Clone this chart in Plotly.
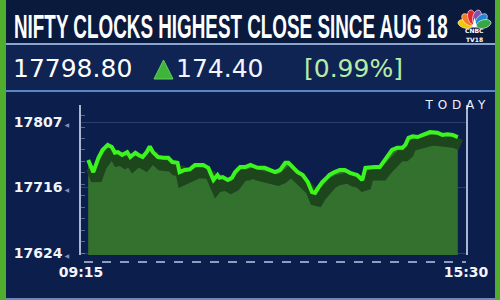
import math
import plotly.graph_objects as go

# ---------------- data ----------------
times = ["09:22", "09:27", "09:32", "09:36", "09:41", "09:45", "09:48", "09:51", "09:55", "10:00",
         "10:03", "10:08", "10:11", "10:15", "10:19", "10:22", "10:25", "10:30", "10:35", "10:40",
         "10:44", "10:49", "10:51", "10:56", "11:01", "11:06", "11:14", "11:19", "11:21", "11:24",
         "11:28", "11:30", "11:33", "11:38", "11:42", "11:45", "11:50", "11:55", "12:00", "12:04",
         "12:07", "12:14", "12:19", "12:24", "12:29", "12:34", "12:37", "12:41", "12:46", "12:51",
         "12:56", "13:00", "13:03", "13:06", "13:10", "13:15", "13:17", "13:22", "13:27", "13:32",
         "13:37", "13:44", "13:49", "13:52", "13:56", "14:01", "14:06", "14:09", "14:13", "14:18",
         "14:23", "14:28", "14:31", "14:34", "14:38", "14:43", "14:48", "14:55", "15:02", "15:07",
         "15:12", "15:17", "15:22"]
nifty = [17754, 17737, 17757, 17768, 17775, 17772, 17764, 17765, 17761, 17765,
         17758, 17764, 17761, 17758, 17765, 17773, 17765, 17758, 17757, 17757,
         17751, 17750, 17737, 17740, 17741, 17747, 17747, 17743, 17736, 17726,
         17733, 17729, 17730, 17726, 17729, 17737, 17744, 17744, 17747, 17744,
         17743, 17743, 17740, 17737, 17740, 17750, 17750, 17744, 17737, 17733,
         17723, 17709, 17708, 17715, 17723, 17730, 17733, 17737, 17740, 17740,
         17736, 17733, 17726, 17743, 17744, 17744, 17744, 17750, 17757, 17768,
         17771, 17771, 17775, 17785, 17787, 17786, 17789, 17793, 17792, 17789,
         17790, 17789, 17786]
y_ticks = [17624, 17716, 17807]
x_tick_labels = ["09:15", "15:30"]
title = "NIFTY CLOCKS HIGHEST CLOSE SINCE AUG 18"
last_value = "17798.80"
change = "174.40"
change_pct = "[0.99%]"

# ---------------- helpers ----------------
W, H = 500, 300
def fx(px):
    return px / W
def fy(py):
    return 1 - py / H
def mins(t):
    h, m = t.split(":")
    return int(h) * 60 + int(m)

x_vals = [mins(t) for t in times]
x_lo, x_hi = mins(x_tick_labels[0]), mins(x_tick_labels[1])

# vertical mapping: 17807 -> 122px, 17624 -> 253px
ppp = (253 - 122) / (y_ticks[2] - y_ticks[0])  # px per point
top_px, bot_px = 105, 255
y_hi = y_ticks[2] + (122 - top_px) / ppp
y_lo = y_ticks[0] - (bot_px - 253) / ppp
ppm = (466 - 81) / (x_hi - x_lo)  # px per minute
sdx, sdy = 3, 8  # shadow offset in px

NAVY = "#0b1e4c"
fig = go.Figure()

fig.add_trace(go.Scatter(
    x=x_vals, y=nifty, xaxis="x", yaxis="y", mode="none", fill="tozeroy",
    fillgradient=dict(type="vertical", colorscale=[[0, "#285a29"], [1, "#33712e"]]),
    hoverinfo="skip", showlegend=False))
fig.add_trace(go.Scatter(
    x=x_vals, y=nifty, xaxis="x2", yaxis="y2", mode="lines",
    line=dict(color="#1d461d", width=11),
    hoverinfo="skip", showlegend=False))
fig.add_trace(go.Scatter(
    x=x_vals, y=nifty, xaxis="x3", yaxis="y3", mode="lines",
    line=dict(color="#3cf51e", width=4),
    hoverinfo="skip", showlegend=False))

tick_font = dict(family="DejaVu Sans", size=14, color="#f2f4fa", weight=700)
xdom = [fx(81), fx(466)]
ydom = [fy(bot_px), fy(top_px)]

fig.update_layout(
    width=W, height=H, autosize=False,
    margin=dict(l=0, r=0, t=0, b=0, autoexpand=False),
    paper_bgcolor=NAVY, plot_bgcolor="rgba(0,0,0,0)",
    showlegend=False,
    xaxis=dict(domain=xdom, range=[x_lo, x_hi], anchor="free", position=fy(262),
               tickvals=[x_lo, x_hi], ticktext=x_tick_labels, tickfont=tick_font,
               showgrid=False, zeroline=False, showline=False, ticks=""),
    yaxis=dict(domain=ydom, range=[y_lo, y_hi], anchor="x",
               tickvals=y_ticks,
               ticktext=[f"{v}<span style='font-size:6px;color:#8090b8'> ◀</span>" for v in y_ticks],
               tickfont=tick_font, ticklabelstandoff=7,
               showgrid=True, gridcolor="rgba(120,150,205,0.28)", gridwidth=1,
               zeroline=False, showline=True, linecolor="#aab6d2", linewidth=2, mirror=True,
               ticks="",
               minor=dict(ticks="inside", ticklen=4, tickcolor="rgba(150,170,210,0.55)",
                          dtick=16, tick0=y_ticks[0], showgrid=False)),
    xaxis2=dict(overlaying="x", range=[x_lo - sdx / ppm, x_hi - sdx / ppm], visible=False),
    yaxis2=dict(overlaying="y", anchor="x2", range=[y_lo + sdy / ppp, y_hi + sdy / ppp], visible=False),
    xaxis3=dict(overlaying="x", range=[x_lo, x_hi], visible=False),
    yaxis3=dict(overlaying="y", anchor="x3", range=[y_lo, y_hi], visible=False),
)

shapes = [
    dict(type="rect", x0=0, x1=1, y0=fy(43), y1=1, fillcolor="#0a1a3d", line_width=0, layer="below"),
    dict(type="rect", x0=0, x1=1, y0=fy(90), y1=fy(45), fillcolor="#0f2452", line_width=0, layer="below"),
    dict(type="rect", x0=0, x1=1, y0=fy(298), y1=fy(92), fillcolor=NAVY, line_width=0, layer="below"),
    dict(type="line", x0=fx(6), x1=fx(495), y0=fy(44), y1=fy(44), line=dict(color="#8aa6d0", width=2)),
    dict(type="line", x0=fx(6), x1=fx(495), y0=fy(91), y1=fy(91), line=dict(color="#5a86c4", width=2)),
    dict(type="line", x0=fx(6), x1=fx(495), y0=fy(299), y1=fy(299), line=dict(color="#6f88b4", width=2)),
    dict(type="rect", x0=0, x1=fx(6), y0=0, y1=1, fillcolor="#4fae2e", line_width=0),
    dict(type="rect", x0=fx(495), x1=1, y0=0, y1=1, fillcolor="#4fae2e", line_width=0),
    dict(type="line", x0=fx(84), x1=fx(466), y0=fy(262), y1=fy(262),
         line=dict(color="#8d9cbf", width=2, dash="dash")),
    dict(type="path", path=f"M {fx(154)},{fy(79)} L {fx(163.5)},{fy(60)} L {fx(173)},{fy(79)} Z",
         fillcolor="#3fb43a", line=dict(color="#63d05a", width=1)),
]
# CNBC peacock feathers (decoration)
feather_cols = ["#f7c600", "#f47b20", "#e3242b", "#8a4fa6", "#1e88d2", "#35a845"]
cx, cy = 474.5, 26.5
for i, c in enumerate(feather_cols):
    ang = math.radians(165 - i * 30)
    ex, ey = cx + 9.5 * math.cos(ang), cy - 9.5 * math.sin(ang)
    pts = []
    for k in range(20):
        t = 2 * math.pi * k / 20
        a, b = 7.5 * math.cos(t), 4.2 * math.sin(t)
        px_ = ex + a * math.cos(ang) - b * math.sin(ang)
        py_ = ey - (a * math.sin(ang) + b * math.cos(ang))
        pts.append(f"{fx(px_):.5f},{fy(py_):.5f}")
    shapes.append(dict(type="path", path="M " + " L ".join(pts) + " Z",
                       fillcolor=c, line=dict(color="#ffffff", width=0.6)))
shapes.append(dict(type="path",
                   path=f"M {fx(cx - 2.5)},{fy(cy + 1)} L {fx(cx)},{fy(cy - 9)} L {fx(cx + 2.5)},{fy(cy + 1)} Z",
                   fillcolor="#ffffff", line_width=0))
for s in shapes:
    s.update(xref="paper", yref="paper")
fig.update_layout(shapes=shapes)

ann = [
    dict(text=title, x=fx(13), y=fy(26), xanchor="left", yanchor="middle", align="left",
         font=dict(family="Liberation Sans", size=33, color="#ffffff", weight=700)),
    dict(text=last_value, x=fx(12), y=fy(68), xanchor="left", yanchor="middle",
         font=dict(family="DejaVu Sans", size=25, color="#ffffff")),
    dict(text=change, x=fx(175), y=fy(68), xanchor="left", yanchor="middle",
         font=dict(family="DejaVu Sans", size=25, color="#f4f6ff")),
    dict(text=change_pct, x=fx(303), y=fy(68), xanchor="left", yanchor="middle",
         font=dict(family="DejaVu Sans", size=25, color="#b6ecaa")),
    dict(text="TODAY", x=fx(487), y=fy(105), xanchor="right", yanchor="middle", align="right",
         font=dict(family="DejaVu Sans", size=12, color="#f0f2fa")),
    dict(text="CNBC", x=fx(474.5), y=fy(30.5), xanchor="center", yanchor="middle",
         font=dict(family="DejaVu Sans", size=6, color="#ffffff", weight=700)),
    dict(text="TV18", x=fx(474.5), y=fy(39.5), xanchor="center", yanchor="middle",
         font=dict(family="DejaVu Sans", size=6, color="#ffffff", weight=700)),
]
for a in ann:
    a.update(xref="paper", yref="paper", showarrow=False, borderpad=0)
fig.update_layout(annotations=ann)

# squeeze the condensed headline (horizontal scale) / space out TODAY like the broadcast graphic
post = """
var gd = document.getElementById('{plot_id}');
gd.querySelectorAll('.annotation-text').forEach(function(t){
  var s = t.textContent;
  var g = t.parentNode;
  var bg = g && g.querySelector('rect.bg');
  if (s.indexOf('NIFTY') === 0) {
    var bb = t.getBBox();
    var k = 434 / bb.width;
    var x0 = bb.x;
    t.setAttribute('transform', 'translate(' + x0 + ',0) scale(' + k + ',1) translate(' + (-x0) + ',0)');
    if (bg) { bg.setAttribute('width', 434); }
  }
  if (s === 'TODAY') {
    t.setAttribute('textLength', 60);
    t.setAttribute('lengthAdjust', 'spacing');
  }
});
"""
fig.write_html("out.html", post_script=post)
